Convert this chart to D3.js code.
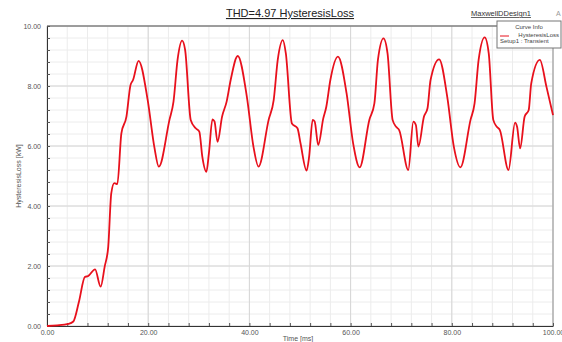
<!DOCTYPE html>
<html lang="en">
<head>
<meta charset="utf-8">
<title>THD=4.97 HysteresisLoss</title>
<script src="https://cdn.jsdelivr.net/npm/d3@7"></script>
<style>
  body { margin: 0; background: #fff; }
  svg { display: block; font-family: "Liberation Sans", Arial, sans-serif; }
  .tick text { fill: #555; font-size: 7px; }
</style>
</head>
<body>
<svg width="562" height="342"></svg>
<script>
// curve: time [ms] / hysteresis loss [kW]
var timeMs = [0, 2, 4.2, 5.2, 6.3, 7.5, 8.1, 9.5, 10.6, 11.4, 12.1, 12.7, 13.3, 13.9, 14.7, 15.7, 16.5, 17.0, 18.1,
  19.9, 21.2, 22.1, 24.2, 25.0, 25.8, 26.7, 27.3, 28.4, 29.4, 30.1, 30.7, 31.5, 32.0, 32.7, 33.1, 33.7, 34.6, 35.5, 36.3, 37.7,
  39.5, 40.8, 41.8, 43.8, 44.8, 45.6, 46.6, 47.2, 48.4, 49.5, 50.1, 51.3, 51.8, 52.5, 52.9, 53.6, 54.6, 55.2, 56.0, 57.5,
  59.2, 60.5, 61.8, 63.7, 64.7, 65.4, 66.5, 67.3, 68.3, 69.0, 69.6, 71.4, 72.4, 72.9, 73.4, 74.5, 75.2, 75.8, 77.5,
  79.1, 80.4, 81.7, 83.7, 84.5, 85.3, 86.5, 87.3, 88.2, 88.9, 89.5, 91.2, 92.5, 92.9, 93.5, 94.4, 95.2, 95.7, 97.4,
  98.7, 100];
var lossKW = [0, 0.02, 0.07, 0.15, 0.8, 1.64, 1.66, 1.89, 1.31, 1.98, 2.64, 4.42, 4.76, 4.73, 6.42, 6.98, 8.03, 8.2, 8.84,
  7.53, 5.98, 5.31, 6.87, 7.48, 8.87, 9.51, 9.2, 6.87, 6.59, 6.48, 5.64, 5.14, 5.76, 6.89, 6.82, 6.14, 6.98, 7.48, 8.2, 9.0,
  7.64, 5.98, 5.31, 6.87, 7.53, 8.87, 9.53, 9.09, 6.75, 6.59, 6.09, 5.18, 5.64, 6.87, 6.82, 6.03, 6.92, 7.31, 8.2, 8.98,
  7.76, 6.09, 5.29, 6.87, 7.42, 8.87, 9.59, 9.09, 6.87, 6.64, 6.53, 5.2, 6.81, 6.7, 5.98, 6.98, 7.26, 8.2, 8.89,
  7.64, 5.98, 5.29, 6.87, 7.42, 8.87, 9.62, 9.09, 6.87, 6.64, 6.53, 5.2, 6.78, 6.64, 5.92, 6.98, 7.2, 8.09, 8.87,
  7.98, 7.03];

var xTicks = [0, 20, 40, 60, 80, 100];
var yTicks = [0, 2, 4, 6, 8, 10];

var svg = d3.select("svg");
var pLeft = 47, pRight = 553, pTop = 26, pBottom = 326;

var x = d3.scaleLinear().domain([0, 100]).range([pLeft, pRight]);
var y = d3.scaleLinear().domain([0, 10]).range([pBottom, pTop]);

// grid
var g = svg.append("g");
g.selectAll(".vminor").data(d3.range(0, 101, 4)).enter().append("line")
  .attr("x1", d => x(d)).attr("x2", d => x(d)).attr("y1", pTop).attr("y2", pBottom)
  .attr("stroke", "#ececec").attr("stroke-width", 1);
g.selectAll(".hminor").data(d3.range(0, 10.01, 0.4)).enter().append("line")
  .attr("x1", pLeft).attr("x2", pRight).attr("y1", d => y(d)).attr("y2", d => y(d))
  .attr("stroke", "#ececec").attr("stroke-width", 1);
g.selectAll(".vmajor").data(xTicks).enter().append("line")
  .attr("x1", d => x(d)).attr("x2", d => x(d)).attr("y1", pTop).attr("y2", pBottom)
  .attr("stroke", "#d6d6d6").attr("stroke-width", 1);
g.selectAll(".hmajor").data(yTicks).enter().append("line")
  .attr("x1", pLeft).attr("x2", pRight).attr("y1", d => y(d)).attr("y2", d => y(d))
  .attr("stroke", "#d6d6d6").attr("stroke-width", 1);

// frame
svg.append("line").attr("x1", pLeft).attr("x2", pRight).attr("y1", pTop).attr("y2", pTop).attr("stroke", "#555");
svg.append("line").attr("x1", pRight).attr("x2", pRight).attr("y1", pTop).attr("y2", pBottom).attr("stroke", "#999");

// axes
var xAxis = d3.axisBottom(x).tickValues(xTicks).tickFormat(d3.format(".2f")).tickSize(0).tickPadding(4);
var gx = svg.append("g").attr("transform", "translate(0," + pBottom + ")").call(xAxis);
gx.select(".domain").attr("stroke", "#333");
var xMinor = d3.axisBottom(x).tickValues(d3.range(0, 101, 4)).tickFormat("").tickSize(-3);
svg.append("g").attr("transform", "translate(0," + pBottom + ")").call(xMinor)
  .call(s => s.select(".domain").remove()).selectAll("line").attr("stroke", "#555");

var yAxis = d3.axisLeft(y).tickValues(yTicks).tickFormat(d3.format(".2f")).tickSize(0).tickPadding(6);
var gy = svg.append("g").attr("transform", "translate(" + pLeft + ",0)").call(yAxis);
gy.select(".domain").attr("stroke", "#333");
var yMinor = d3.axisLeft(y).tickValues(d3.range(0, 10.01, 0.4)).tickFormat("").tickSize(-3);
svg.append("g").attr("transform", "translate(" + pLeft + ",0)").call(yMinor)
  .call(s => s.select(".domain").remove()).selectAll("line").attr("stroke", "#555");

// curve
var pts = timeMs.map((t, i) => [t, lossKW[i]]);
var line = d3.line().x(d => x(d[0])).y(d => y(d[1])).curve(d3.curveMonotoneX);
svg.append("path").datum(pts).attr("d", line)
  .attr("fill", "none").attr("stroke", "#e8101c").attr("stroke-width", 1.8).attr("stroke-linejoin", "round");

// titles
svg.append("text").attr("x", 290).attr("y", 17).attr("text-anchor", "middle")
  .attr("font-size", 11).attr("fill", "#222").attr("text-decoration", "underline")
  .text("THD=4.97 HysteresisLoss");
svg.append("text").attr("x", 531).attr("y", 16).attr("text-anchor", "end")
  .attr("font-size", 7.5).attr("fill", "#333").attr("text-decoration", "underline")
  .text("MaxwellDDesign1");
svg.append("text").attr("x", 556).attr("y", 16).attr("font-size", 7).attr("fill", "#999").text("A");

svg.append("text").attr("transform", "translate(21," + ((pTop + pBottom) / 2) + ") rotate(-90)")
  .attr("text-anchor", "middle").attr("font-size", 7).attr("fill", "#555")
  .text("HysteresisLoss [kW]");
svg.append("text").attr("x", 298).attr("y", 341).attr("text-anchor", "middle")
  .attr("font-size", 7).attr("fill", "#555").text("Time [ms]");

// legend
var lg = svg.append("g").attr("transform", "translate(497,21)");
lg.append("rect").attr("width", 64).attr("height", 27).attr("fill", "#fff")
  .attr("stroke", "#777").attr("stroke-width", 1);
lg.append("text").attr("x", 32).attr("y", 8).attr("text-anchor", "middle")
  .attr("font-size", 6).attr("fill", "#444").text("Curve Info");
lg.append("line").attr("x1", 3).attr("x2", 12).attr("y1", 15).attr("y2", 15).attr("stroke", "#e8101c");
lg.append("text").attr("x", 62).attr("y", 16).attr("text-anchor", "end")
  .attr("font-size", 6).attr("fill", "#444").text("HysteresisLoss");
lg.append("text").attr("x", 3).attr("y", 22).attr("font-size", 6).attr("fill", "#444")
  .text("Setup1 : Transient");
</script>
</body>
</html>
